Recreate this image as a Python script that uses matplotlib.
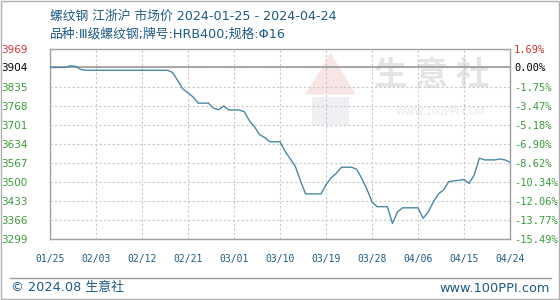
import numpy as np
import pandas as pd
import matplotlib
matplotlib.use('Agg')
import matplotlib.pyplot as plt
from matplotlib.patches import Rectangle, Polygon
from matplotlib.lines import Line2D

plt.rcParams['font.family'] = ['DejaVu Sans', 'Noto Sans CJK SC']

# daily price, 2024-01-25 .. 2024-04-24 (yuan/ton)
dates = pd.date_range('2024-01-25', '2024-04-24', freq='D')
prices = [3904, 3904, 3904, 3904, 3910, 3908, 3897, 3894, 3894, 3894,
          3894, 3894, 3894, 3894, 3894, 3894, 3894, 3894, 3894, 3894,
          3894, 3894, 3894, 3894, 3886, 3857, 3828, 3814, 3800, 3778,
          3778, 3778, 3760, 3755, 3768, 3754, 3754, 3754, 3748, 3716,
          3695, 3667, 3657, 3642, 3642, 3642, 3608, 3582, 3555, 3505,
          3458, 3458, 3458, 3458, 3490, 3515, 3530, 3552, 3552, 3552,
          3545, 3512, 3475, 3430, 3413, 3413, 3413, 3354, 3395, 3409,
          3409, 3409, 3409, 3372, 3394, 3430, 3458, 3472, 3501, 3504,
          3506, 3509, 3495, 3525, 3584, 3578, 3578, 3578, 3581, 3578,
          3570]
base = 3904

y_ticks = [3299, 3366, 3433, 3500, 3567, 3634, 3701, 3768, 3835, 3904, 3969]
pct_labels = ['-15.49%', '-13.77%', '-12.06%', '-10.34%', '-8.62%', '-6.90%',
              '-5.18%', '-3.47%', '-1.75%', '0.00%', '1.69%']
x_labels = ['01/25', '02/03', '02/12', '02/21', '03/01', '03/10',
            '03/19', '03/28', '04/06', '04/15', '04/24']

title1 = '螺纹钢 江浙沪 市场价 2024-01-25 - 2024-04-24'
title2 = '品种:Ⅲ级螺纹钢;牌号:HRB400;规格:Φ16'

blue_txt = '#1f5a85'
green = '#3a9a3a'
red = '#cc3333'

days = np.arange(len(dates))

fig = plt.figure(figsize=(5.6, 3.0), dpi=100)
ax = fig.add_axes([50/560, 61/300, 460/560, 190/300])

# faint watermark
ax.add_patch(Polygon([[0.555, 0.76], [0.61, 0.98], [0.665, 0.76]], closed=True,
                     transform=ax.transAxes, color='#f8e6e6', zorder=0, lw=0))
ax.add_patch(Rectangle((0.57, 0.60), 0.08, 0.15, transform=ax.transAxes,
                       color='#eef0f4', zorder=0, lw=0))
ax.text(0.83, 0.86, '生 意 社', transform=ax.transAxes, ha='center', va='center',
        fontsize=24, color='#e4e4e4', zorder=0, fontweight='bold',
        family=['Noto Sans CJK SC', 'DejaVu Sans'])
ax.text(0.85, 0.67, 'WWW.100PPI.COM', transform=ax.transAxes, ha='center',
        va='center', fontsize=7, color='#e8e8e8', zorder=0)

ax.axhline(base, color='#9a9a9a', lw=1.2, zorder=2)
ax.plot(days, prices, color='#4b87a8', lw=1.0, zorder=3)

ax.set_xlim(days[0], days[-1])
ax.set_ylim(y_ticks[0], y_ticks[-1])

ax.set_xticks(days[::9])
ax.set_xticklabels(x_labels, fontsize=7, color=blue_txt, family='DejaVu Sans Mono')
ax.tick_params(axis='x', length=0, pad=11)

ax.set_yticks(y_ticks)
ax.set_yticklabels([str(v) for v in y_ticks], fontsize=7.5)
ax.tick_params(axis='y', length=0, pad=16)
ax.grid(True, color='#c8c8c8', ls=(0, (2, 2)), lw=0.8)

for sp in ax.spines.values():
    sp.set_color('#a0a0a0')
    sp.set_linewidth(1)

ax2 = ax.twinx()
ax2.set_ylim(ax.get_ylim())
ax2.set_yticks(y_ticks)
ax2.set_yticklabels(pct_labels, fontsize=7.5, family='DejaVu Sans Mono')
ax2.tick_params(axis='y', length=0, pad=3)
for sp in ax2.spines.values():
    sp.set_visible(False)

for a in (ax, ax2):
    labs = a.get_yticklabels()
    for i, t in enumerate(labs):
        if i == len(labs) - 1:
            t.set_color(red)
        elif i == len(labs) - 2:
            t.set_color('black')
        else:
            t.set_color(green)

fig.text(50/560, 1 - 16/300, title1, fontsize=9.2, color=blue_txt, va='center')
fig.text(50/560, 1 - 34/300, title2, fontsize=9.2, color=blue_txt, va='center')

# frame and footer
fig.add_artist(Rectangle((0.001, 0.002), 0.997, 0.995, transform=fig.transFigure,
                         fill=False, edgecolor='#b0b0b0', lw=1))
fig.add_artist(Line2D([10/560, 551/560], [1 - 277.5/300, 1 - 277.5/300],
                      transform=fig.transFigure, color='#9a9a9a', lw=1))
fig.text(11/560, 1 - 288/300, '© 2024.08 生意社', fontsize=9.3, color=blue_txt, va='center')
fig.text(550/560, 1 - 288/300, 'www.100PPI.com', fontsize=9.3, color=blue_txt,
         va='center', ha='right')

fig.savefig('out.png', dpi=100)
